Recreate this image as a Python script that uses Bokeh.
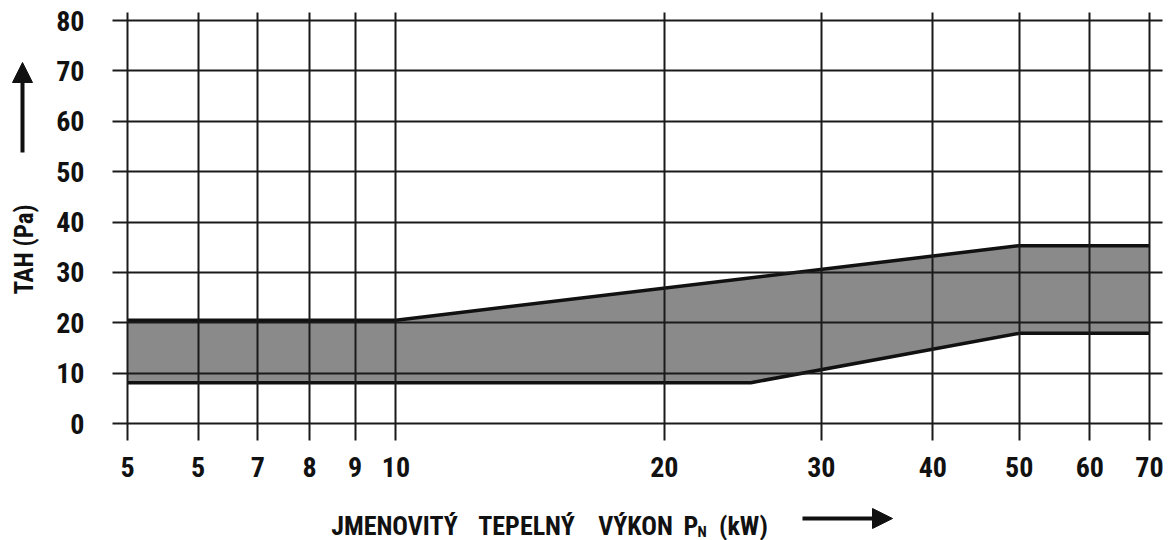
from bokeh.plotting import figure
from bokeh.models import FixedTicker, Label, Arrow, NormalHead, Range1d
from bokeh.layouts import row, column
from bokeh.embed import file_html
from bokeh.resources import INLINE

# ---- data ----
x_ticks = [5, 6, 7, 8, 9, 10, 20, 30, 40, 50, 60, 70]
x_tick_labels = ["5", "5", "7", "8", "9", "10", "20", "30", "40", "50", "60", "70"]
y_ticks = [0, 10, 20, 30, 40, 50, 60, 70, 80]

upper_kw = [5, 10, 50, 70]
upper_pa = [20.5, 20.5, 35.3, 35.3]
lower_kw = [5, 25, 50, 70]
lower_pa = [8.1, 8.1, 17.9, 17.9]

FONT = "Roboto Condensed"
INK = "#111111"

FRAME_W, FRAME_H = 1050, 428
TOP, BOTTOM = 12, 48


def blank(w, h, left=0, right=0, top=0, bottom=0):
    f = figure(frame_width=w, frame_height=h, x_range=Range1d(0, 1), y_range=Range1d(0, 1),
               x_axis_location=None, y_axis_location=None,
               output_backend="svg", toolbar_location=None,
               min_border_left=left, min_border_right=right,
               min_border_top=top, min_border_bottom=bottom)
    f.outline_line_color = None
    f.grid.visible = False
    return f


def lab(f, text, x, y, size, angle=0, align="left", baseline="alphabetic"):
    f.add_layout(Label(x=x, y=y, x_units="screen", y_units="screen", text=text,
                       angle=angle, text_align=align, text_baseline=baseline,
                       text_font=FONT, text_font_style="bold",
                       text_font_size=size, text_color=INK))


def arrow(f, x0, y0, x1, y1):
    f.add_layout(Arrow(x_start=x0, y_start=y0, x_end=x1, y_end=y1,
                       start_units="screen", end_units="screen",
                       line_width=4, line_color=INK,
                       end=NormalHead(size=20, fill_color=INK, line_color=INK)))


# ---- main chart ----
p = figure(frame_width=FRAME_W, frame_height=FRAME_H,
           x_axis_type="log",
           x_range=Range1d(4.81, 72.39), y_range=Range1d(-3.37, 81.59),
           output_backend="svg", toolbar_location=None,
           min_border_left=68, min_border_right=3,
           min_border_top=TOP, min_border_bottom=BOTTOM)
p.outline_line_color = None

band_x = upper_kw + lower_kw[::-1]
band_y = upper_pa + lower_pa[::-1]
p.patch(band_x, band_y, fill_color="#8a8a8a", line_color=None)
p.line(upper_kw, upper_pa, line_color=INK, line_width=3.5)
p.line(lower_kw, lower_pa, line_color=INK, line_width=3.5)

p.xaxis.ticker = FixedTicker(ticks=x_ticks)
p.xaxis.major_label_overrides = {t: s for t, s in zip(x_ticks, x_tick_labels)}
p.yaxis.ticker = FixedTicker(ticks=y_ticks)
for ax in (p.xaxis[0], p.yaxis[0]):
    ax.axis_line_color = None
    ax.major_tick_line_color = None
    ax.minor_tick_line_color = None
    ax.major_label_text_font = FONT
    ax.major_label_text_font_style = "bold"
    ax.major_label_text_font_size = "28px"
    ax.major_label_text_color = INK
p.xaxis.major_label_standoff = 10
p.yaxis.major_label_standoff = 22

p.xgrid.ticker = FixedTicker(ticks=x_ticks)
p.ygrid.ticker = FixedTicker(ticks=y_ticks)
for g in (p.xgrid[0], p.ygrid[0]):
    g.grid_line_color = "#1a1a1a"
    g.grid_line_width = 2
    g.level = "overlay"

# ---- y title strip (same vertical structure as the chart) ----
left = blank(44, FRAME_H, top=TOP, bottom=BOTTOM)
lab(left, "TAH (Pa)", 24, 191, "25px", angle=1.5708, align="center", baseline="middle")
arrow(left, 22, 288, 22, 378)

# ---- x title strip (same horizontal structure as the chart) ----
bottom = blank(FRAME_W, 52, left=112, right=3)
lab(bottom, "JMENOVITÝ", 282, 15, "26px", align="center")
lab(bottom, "TEPELNÝ", 414, 15, "26px", align="center")
lab(bottom, "VÝKON", 523, 15, "26px", align="center")
lab(bottom, "P", 571, 15, "26px")
lab(bottom, "N", 585, 9, "15px")
lab(bottom, "(kW)", 631, 15, "26px", align="center")
arrow(bottom, 690, 22, 780, 22)

layout = column(row(left, p), bottom)
open("out.html", "w").write(file_html(layout, INLINE))
